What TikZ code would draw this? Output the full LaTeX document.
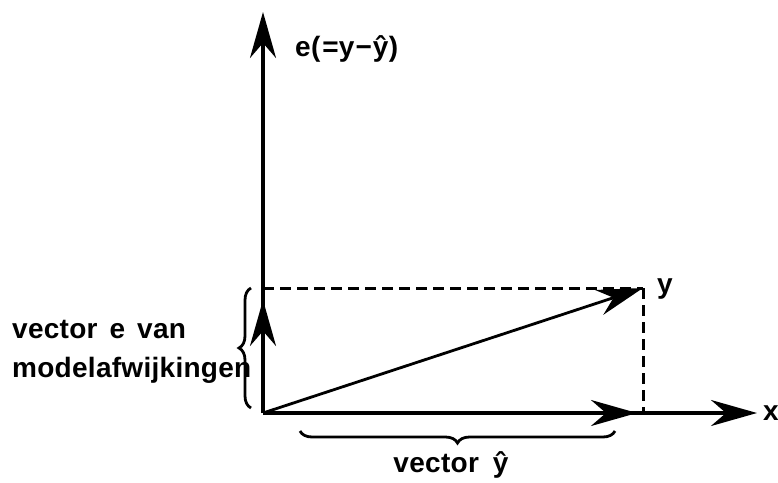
\documentclass[tikz,border=0pt]{standalone}
\usepackage{fontspec}
\setmainfont{Liberation Sans}
\newfontfamily\lab{Liberation Sans}[LetterSpace=1]
\usetikzlibrary{arrows.meta,decorations.pathreplacing}
\begin{document}
\begin{tikzpicture}[x=1pt,y=-1pt,
  axis/.style={line width=3.4pt},
  tip/.style={-{Stealth[length=46pt,width=26pt,inset=15pt]}},
  dash line/.style={line width=3pt,dash pattern=on 11pt off 6pt},
  curly/.style={line width=2.8pt,decorate,decoration={brace,amplitude=12pt}},
  lbl/.style={inner sep=0pt,font=\lab\bfseries\fontsize{28}{33}\selectfont}]
\useasboundingbox (0,0) rectangle (778,482);
\coordinate (O) at (263,413);
\coordinate (Top) at (263,12);
\coordinate (X) at (757,413);
\coordinate (Y) at (643,288);
\coordinate (E) at (263,288);
\coordinate (H) at (643,413);
\coordinate (Etip) at (263,300);
\coordinate (Htip) at (637,413);
% axes
\draw[axis,tip] (O) -- (Top);
\draw[axis,tip] (O) -- (X);
% vectors
\draw[axis,tip] (O) -- (Etip);
\draw[axis,tip] (O) -- (Htip);
\draw[axis,tip,line width=2.8pt] (O) -- (Y);
% dashed
\draw[dash line] (E) -- (Y);
\draw[dash line] (Y) -- (H);
% braces
\coordinate (Lb1) at (251,408);
\coordinate (Lb2) at (251,288);
\draw[curly] (Lb1) -- (Lb2);
\coordinate (Bb1) at (615,431);
\coordinate (Bb2) at (300,431);
\draw[curly] (Bb1) -- (Bb2);
% labels
\node[lbl,anchor=west] (le) at (295,49) {e(\hspace{2pt}=y\hspace{1pt}−\hspace{1pt}ŷ)};
\node[lbl,anchor=west] (ly) at (657,289) {y};
\node[lbl,anchor=west] (lx) at (763,413) {x};
\node[lbl] (lyh) at (451,465) {vector\hspace{14pt}ŷ};
\node[lbl,anchor=base west] (l1) at (12,338) {vector\hspace{12pt}e\hspace{12pt}van};
\node[lbl,anchor=base west] (l2) at (12,377) {modelafwijkingen};
\end{tikzpicture}
\end{document}
